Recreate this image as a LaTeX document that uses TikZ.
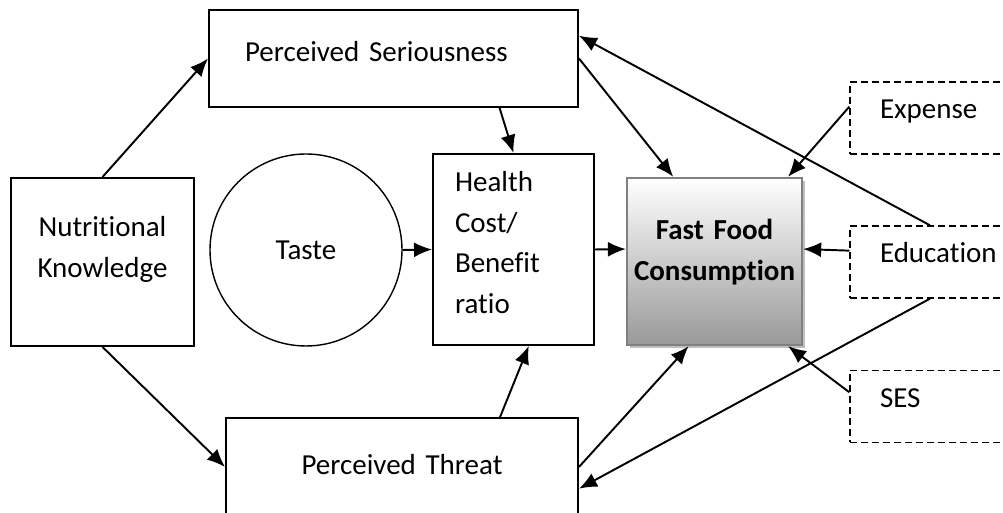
\documentclass[tikz,border=0pt]{standalone}
\usepackage{fontspec}
\setmainfont{Carlito}[Ligatures=NoCommon]
\usetikzlibrary{arrows.meta,shadows}

\begin{document}
\begin{tikzpicture}[>={Latex[length=3.6mm,width=3mm]},line width=1.1pt,
 every node/.style={font=\fontsize{16.5pt}{23pt}\selectfont},
 box/.style={draw,line width=1.1pt,inner ysep=0pt},
 factor/.style={draw,line width=.75pt,dash pattern=on 1.4mm off .8mm,inner ysep=0pt,inner xsep=6mm,
   text width=20mm,align=left,text height=7.4mm,text depth=7mm},
 outcome/.style={draw=black!50,line width=1.3pt,inner ysep=0pt,top color=white,bottom color=black!40,
   drop shadow={shadow xshift=.6mm,shadow yshift=-.6mm,fill=black!25,opacity=1}}]
\useasboundingbox (0,0) rectangle (20.06,10.26);
\node[box,text width=59.4mm,inner xsep=7.2mm,align=left,text height=10.4mm,text depth=9mm] (seri) at (7.87,9.09) {Perceived Seriousness};
\node[box,text width=32.6mm,inner xsep=2mm,align=center,text height=11.8mm,text depth=21.8mm] (nutr) at (2.05,5.02) {Nutritional\\Knowledge};
\node[circle,draw,line width=.8pt,minimum size=38.4mm] (taste) at (6.12,5.26) {Taste};
\node[box,text width=23.4mm,inner xsep=4.4mm,align=left,text height=7.6mm,text depth=30.6mm] (health) at (10.27,5.27) {Health\\Cost/\\Benefit\\ratio};
\node[outcome,text width=33mm,inner xsep=1mm,align=center,text height=12.4mm,text depth=21mm,font=\fontsize{16.5pt}{23pt}\selectfont\bfseries] (ffc) at (14.29,5.03) {Fast Food\\Consumption};
\node[box,text width=64.4mm,inner xsep=3mm,align=center,text height=11.4mm,text depth=8.2mm] (threat) at (8.04,.92) {Perceived Threat};
\node[factor] (exp) at (18.6,7.9) {Expense};
\node[factor] (edu) at (18.6,5.02) {Education};
\node[factor] (ses) at (18.6,2.13) {SES};
% paths into the consumption box
\draw[->] (nutr.north) -- (seri.west);
\draw[->] (nutr.south) -- (threat.west);
\draw[->] (seri.-25) -- (health.north);
\draw[->] (taste.east) -- (health.west);
\draw[->] (threat.27) -- (health.-81);
\draw[->] (health.east) -- (ffc.172);
\draw[->] (seri.east) -- (ffc.116);
\draw[->] (threat.east) -- (ffc.-107);
% background factors
\draw[->] (exp.172) -- (ffc.49);
\draw[->] (edu.north) -- (seri.7);
\draw[->] (edu.172) -- (ffc.8);
\draw[->] (edu.south) -- (threat.-7);
\draw[->] (ses.170) -- (ffc.-49);
\end{tikzpicture}
\end{document}
